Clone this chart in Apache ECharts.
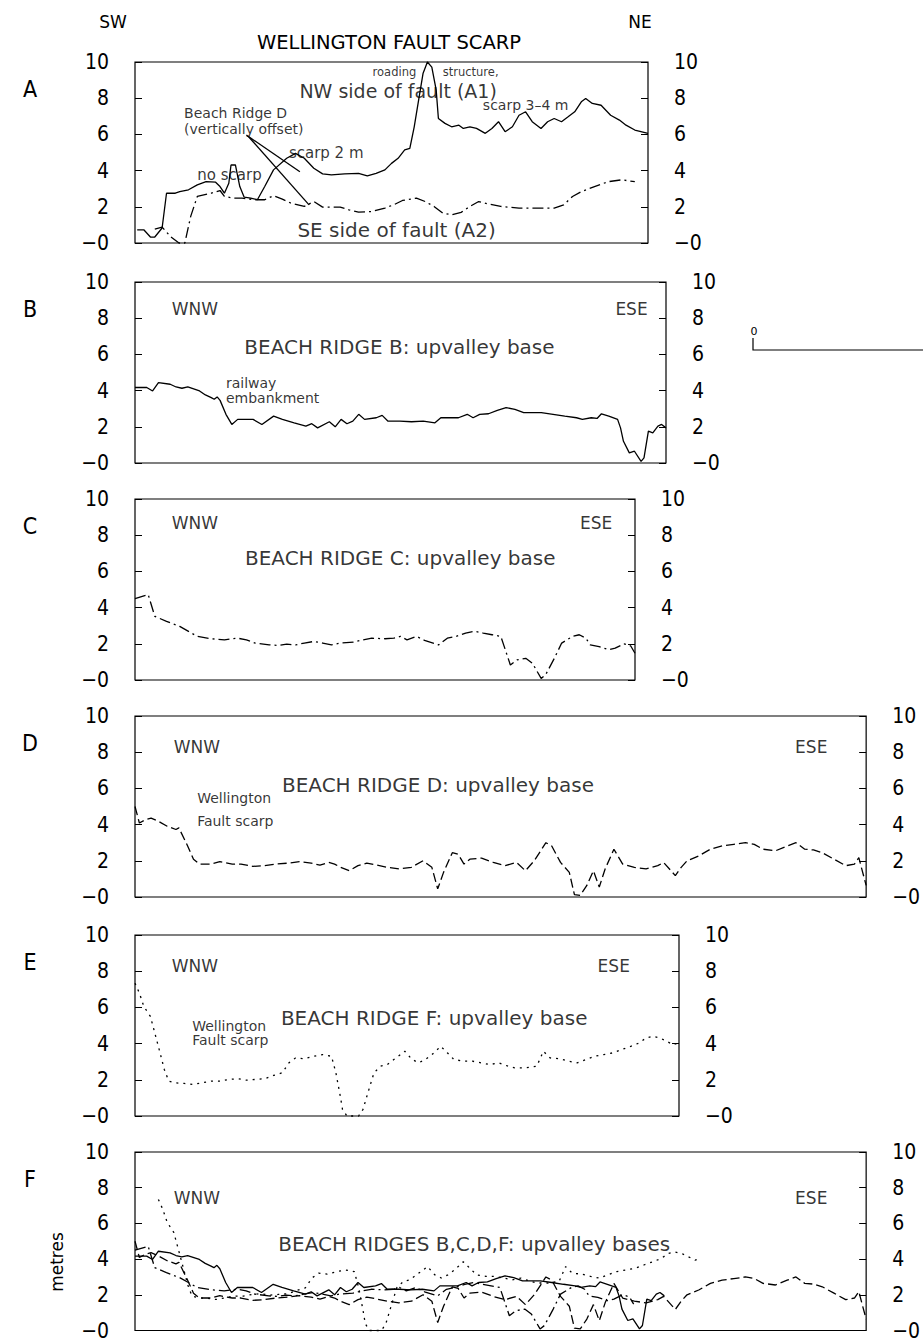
<!DOCTYPE html>
<html><head><meta charset="utf-8">
<script src="https://cdn.jsdelivr.net/npm/echarts@6/dist/echarts.min.js"></script>
<style>html,body{margin:0;padding:0;background:#fff}#c{width:923px;height:1341px}</style>
</head><body><div id="c"></div>
<script>
// ================= DATA =================
// Heights in metres; x = distance along profile (common arbitrary units)
const yTickValues = [0, 2, 4, 6, 8, 10];
const yTickLabels = ['−0', '2', '4', '6', '8', '10'];
const panelLetters = ['A', 'B', 'C', 'D', 'E', 'F'];
const profileLengths = [70, 72.4, 68.2, 100, 74.2, 100];

// A1: NW side of Wellington fault (solid)
const profileA1 = [[0.3,0.73],[1.2,0.73],[2.1,0.33],[2.7,0.33],[3.7,0.83],[4.3,2.75],[5.5,2.75],[6.1,2.84],[7.3,2.94],[8.5,3.21],[9.7,3.39],[11.0,3.36],[11.6,3.12],[12.2,2.75],[12.8,3.3],[13.1,4.31],[13.7,4.31],[14.3,3.12],[14.9,2.53],[15.8,2.48],[16.7,2.39],[17.7,3.12],[18.9,4.04],[20.7,4.68],[21.9,4.95],[23.1,4.68],[24.4,4.13],[25.6,3.82],[26.8,3.76],[28.6,3.82],[30.5,3.85],[31.7,3.71],[32.9,3.85],[34.1,4.04],[35.0,4.4],[35.9,4.68],[36.8,5.14],[37.5,5.23],[38.1,6.42],[38.7,7.89],[39.3,9.36],[39.9,10.0],[40.5,9.72],[41.1,8.44],[41.4,6.88],[42.3,6.61],[43.2,6.42],[44.2,6.51],[44.8,6.33],[45.7,6.42],[46.6,6.33],[47.8,6.06],[48.7,6.33],[49.6,6.7],[50.5,6.15],[51.5,6.42],[52.4,7.06],[53.3,7.25],[54.2,6.7],[55.4,6.33],[56.3,6.7],[57.2,6.88],[58.2,6.7],[59.1,6.97],[60.0,7.25],[60.9,7.8],[61.5,7.98],[62.4,7.71],[63.6,7.61],[64.9,7.06],[66.1,6.79],[67.0,6.51],[68.2,6.24],[70.0,6.06]];
// A2: SE side of fault (dash-dot)
const profileA2 = [[2.7,0.77],[3.7,0.88],[4.9,0.33],[6.0,0.0],[6.8,0.0],[7.6,1.47],[8.5,2.57],[10.4,2.75],[11.6,2.9],[12.2,2.57],[13.4,2.48],[14.6,2.48],[16.4,2.39],[17.7,2.39],[18.9,2.61],[20.1,2.42],[21.3,2.2],[23.1,2.02],[24.4,2.29],[25.6,1.98],[28.0,1.98],[29.2,1.83],[30.5,1.71],[32.3,1.74],[34.1,1.93],[35.3,2.11],[36.5,2.35],[38.4,2.48],[39.6,2.29],[40.8,2.02],[42.0,1.65],[43.2,1.56],[44.5,1.69],[45.7,2.02],[46.9,2.29],[48.1,2.17],[49.9,2.02],[52.4,1.93],[54.8,1.93],[57.2,1.93],[58.5,2.11],[59.7,2.57],[60.9,2.84],[62.7,3.12],[64.6,3.39],[66.4,3.49],[68.2,3.39]];
// Beach ridge B upvalley base (solid)
const profileB = [[0,4.17],[1.6,4.17],[2.4,3.98],[3.2,4.44],[4.8,4.35],[5.6,4.2],[6.4,4.13],[7.2,4.2],[8.8,3.98],[9.6,3.76],[10.4,3.61],[10.8,3.52],[11.2,3.65],[11.6,3.46],[12.4,2.69],[13.2,2.13],[14.0,2.41],[16.1,2.41],[17.3,2.13],[18.9,2.59],[20.1,2.41],[21.7,2.22],[23.3,2.04],[24.1,2.17],[24.9,1.94],[26.5,2.28],[27.3,2.0],[28.1,2.41],[28.9,2.17],[29.7,2.31],[30.5,2.69],[31.3,2.41],[32.9,2.5],[33.7,2.63],[34.5,2.31],[36.1,2.31],[37.7,2.28],[39.3,2.31],[40.9,2.22],[41.7,2.5],[44.1,2.5],[45.3,2.69],[46.1,2.5],[47.0,2.69],[48.2,2.72],[49.4,2.91],[50.6,3.06],[51.8,2.96],[53.0,2.78],[55.4,2.78],[57.0,2.69],[58.6,2.59],[60.2,2.5],[61.0,2.41],[62.2,2.5],[63.0,2.46],[63.6,2.72],[64.6,2.59],[65.8,2.41],[66.2,1.94],[66.6,1.2],[67.4,0.56],[68.1,0.65],[69.0,0.09],[69.4,0.28],[70.0,1.76],[70.6,1.67],[71.3,2.04],[71.8,2.13],[72.4,1.94]];
// Beach ridge C upvalley base (dash-dot)
const profileC = [[0,4.5],[1.8,4.72],[2.7,3.52],[4.3,3.24],[6.1,2.96],[7.3,2.69],[8.5,2.41],[10.4,2.28],[12.2,2.22],[14.0,2.31],[15.2,2.22],[16.4,2.04],[18.3,1.94],[19.5,1.91],[20.7,1.98],[21.9,1.94],[23.1,2.04],[24.4,2.13],[25.6,2.04],[26.8,1.94],[28.0,2.04],[29.8,2.09],[31.1,2.22],[32.3,2.31],[34.1,2.28],[35.3,2.31],[36.2,2.41],[37.1,2.22],[38.4,2.41],[39.6,2.17],[41.4,1.94],[42.6,2.31],[43.8,2.41],[45.1,2.59],[46.3,2.69],[47.5,2.59],[48.7,2.5],[49.9,2.41],[51.2,0.83],[52.1,1.11],[53.3,1.2],[54.2,0.93],[55.4,0.09],[56.0,0.28],[57.2,1.2],[58.2,2.04],[59.7,2.41],[60.6,2.5],[61.5,2.31],[62.1,1.94],[63.3,1.85],[64.6,1.67],[65.5,1.76],[66.7,2.0],[67.6,1.89],[68.2,1.48]];
// Beach ridge D upvalley base (dashed)
const profileD = [[0,5.0],[0.6,4.09],[1.4,4.27],[2.2,4.36],[3.2,4.18],[4.4,3.91],[5.6,3.73],[6.0,3.82],[7.2,2.82],[8.0,2.09],[8.8,1.82],[10.4,1.82],[11.6,1.95],[13.3,1.82],[14.5,1.82],[16.1,1.69],[17.7,1.73],[19.3,1.82],[20.9,1.87],[22.5,1.95],[24.1,1.87],[25.3,1.76],[26.5,1.91],[27.3,1.82],[28.1,1.64],[29.3,1.45],[30.5,1.73],[31.7,1.87],[32.9,1.78],[34.5,1.64],[36.1,1.55],[37.8,1.64],[39.4,2.0],[40.6,1.64],[41.4,0.45],[42.2,1.36],[43.4,2.45],[44.2,2.36],[45.0,1.82],[45.8,2.09],[47.4,2.15],[49.0,1.91],[50.6,1.73],[52.2,1.91],[53.4,1.45],[54.6,2.0],[56.2,3.0],[57.0,2.82],[58.2,1.91],[59.4,1.36],[60.1,0.13],[60.9,0.09],[61.8,0.64],[62.7,1.45],[63.5,0.55],[64.3,1.55],[65.5,2.64],[66.7,1.82],[68.3,1.64],[69.9,1.55],[71.5,1.73],[72.3,1.91],[73.9,1.18],[74.7,1.64],[75.5,2.0],[77.1,2.27],[78.7,2.64],[80.3,2.82],[81.9,2.91],[83.5,3.0],[84.7,2.91],[85.9,2.64],[87.6,2.55],[89.2,2.82],[90.4,3.0],[91.6,2.64],[92.8,2.6],[94.0,2.45],[95.6,2.09],[97.2,1.73],[98.4,1.82],[99.0,2.18],[99.4,1.55],[100,0.64]];
// Beach ridge F upvalley base (dotted)
const profileF = [[0,7.34],[0.6,6.79],[1.2,6.06],[2.1,5.5],[2.7,4.59],[3.3,3.67],[4.0,2.57],[4.6,1.93],[5.5,1.83],[6.7,1.8],[7.9,1.74],[9.1,1.83],[10.4,1.93],[11.6,1.93],[12.8,2.02],[14.0,2.06],[15.2,1.98],[16.4,2.02],[17.7,2.06],[18.9,2.24],[20.1,2.39],[21.0,2.94],[21.9,3.21],[23.1,3.16],[24.4,3.3],[25.6,3.39],[26.8,3.3],[27.4,2.39],[28.0,1.1],[28.3,0.37],[28.9,0.0],[30.5,0.0],[31.1,0.37],[31.7,1.19],[32.6,2.39],[33.5,2.75],[34.4,2.84],[35.3,3.12],[36.2,3.39],[36.8,3.58],[37.8,3.12],[38.7,2.94],[39.6,3.12],[40.5,3.39],[41.7,3.85],[42.6,3.49],[43.5,3.12],[44.8,3.03],[46.0,3.03],[47.2,2.94],[48.4,2.84],[49.6,2.94],[50.9,2.75],[51.8,2.66],[53.3,2.66],[54.8,2.75],[55.7,3.58],[56.6,3.21],[57.9,3.16],[59.1,3.03],[60.3,2.94],[61.5,3.12],[62.7,3.3],[63.9,3.39],[65.2,3.49],[66.4,3.67],[67.6,3.85],[68.8,4.04],[69.7,4.31],[70.6,4.4],[71.6,4.31],[72.5,4.13],[73.4,3.94],[74.2,4.04]];
// shift of ridge F in the combined panel (aligned on fault scarp)
const fOverlayShift = 3.2;

// ================= LAYOUT =================
const FONT_NARROW = "'Liberation Sans Narrow','DejaVu Sans Condensed','Liberation Sans',sans-serif";
const FONT_TEXT = "'DejaVu Sans',sans-serif";
const grids = [
  {left:135, top:62,  width:513, height:181},
  {left:135, top:282, width:531, height:181},
  {left:135, top:499, width:500, height:181},
  {left:135, top:716, width:733, height:181},
  {left:135, top:935, width:544, height:181},
  {left:135, top:1152,width:733, height:181}
];
// annotation placement [x, y, text, anchor, fontSize]
const notes = [
  [[35.9,8.42,'NW side of fault (A1)','c',19],[35.7,0.73,'SE side of fault (A2)','c',20],
   [35.4,9.45,'roading','c',11.5],[45.8,9.45,'structure,','c',11.5],[53.3,7.6,'scarp 3–4 m','c',14],
   [6.7,7.2,'Beach Ridge D','l',14],[6.7,6.3,'(vertically offset)','l',14],
   [21.0,4.95,'scarp 2 m','l',15],[8.5,3.76,'no scarp','l',15]],
  [[5.0,8.5,'WNW','l',17],[69.9,8.5,'ESE','r',17],[14.9,6.4,'BEACH RIDGE B: upvalley base','l',20],
   [12.4,4.44,'railway','l',14],[12.4,3.61,'embankment','l',14]],
  [[5.0,8.7,'WNW','l',17],[65.1,8.7,'ESE','r',17],[15.0,6.76,'BEACH RIDGE C: upvalley base','l',20]],
  [[5.3,8.27,'WNW','l',17],[94.7,8.27,'ESE','r',17],[20.1,6.2,'BEACH RIDGE D: upvalley base','l',20],
   [8.5,5.45,'Wellington','l',14],[8.5,4.2,'Fault scarp','l',14]],
  [[5.0,8.26,'WNW','l',17],[67.5,8.26,'ESE','r',17],[19.9,5.4,'BEACH RIDGE F: upvalley base','l',20],
   [7.8,4.95,'Wellington','l',14],[7.8,4.2,'Fault scarp','l',14]],
  [[5.3,7.4,'WNW','l',17],[94.7,7.4,'ESE','r',17],[19.6,4.86,'BEACH RIDGES B,C,D,F: upvalley bases','l',20]]
];
const leaderLines = [[[15.2,5.96],[22.5,3.94]],[[15.5,5.87],[23.75,2.11]]];

const SOLID = 'solid', DASHDOT = [11,4,2,4], DASHED = [9,4], DOTTED = [2,5];

const xAxes = [], yAxes = [], series = [];
grids.forEach((g, i) => {
  xAxes.push({gridIndex:i, type:'value', min:0, max:profileLengths[i], show:false});
  ['left','right'].forEach(pos => {
    yAxes.push({gridIndex:i, type:'value', min:0, max:10, interval:2, position:pos,
      axisLine:{show:false}, splitLine:{show:false},
      axisTick:{show:true, inside:true, length:7, lineStyle:{color:'#000', width:1}},
      axisLabel:{show:true, margin:26, color:'#000', fontSize:21, fontFamily:FONT_NARROW,
        formatter: v => yTickLabels[yTickValues.indexOf(v)]}});
  });
});
function line(i, data, type) {
  series.push({type:'line', xAxisIndex:i, yAxisIndex:2*i, data, showSymbol:false, symbol:'none',
    silent:true, clip:false, lineStyle:{color:'#000', width:1.3, type, cap:'butt'}});
}
line(0, profileA1, SOLID);
line(0, profileA2, DASHDOT);
line(1, profileB, SOLID);
line(2, profileC, DASHDOT);
line(3, profileD, DASHED);
line(4, profileF, DOTTED);
line(5, profileD, DASHED);
line(5, profileB, SOLID);
line(5, profileC, DASHDOT);
line(5, profileF.map(p => [p[0] + fOverlayShift, p[1]]), DOTTED);
leaderLines.forEach(seg => line(0, seg, SOLID));

notes.forEach((arr, i) => {
  series.push({type:'scatter', xAxisIndex:i, yAxisIndex:2*i, symbolSize:0, silent:true,
    itemStyle:{color:'#000'},
    label:{show:true, color:'#000', textBorderWidth:0},
    data: arr.map(n => ({value:[n[0], n[1]], label:{show:true, position:'inside',
      formatter:n[2], align: n[3]==='l'?'left':(n[3]==='r'?'right':'center'), verticalAlign:'middle',
      fontSize:n[4], color:'#000', textBorderWidth:0, textShadowBlur:0, fontFamily:FONT_TEXT}}))});
});

const T = (text, x, y, size, family, extra) => Object.assign({type:'text', x, y,
  style:{text, fontSize:size, fontFamily:family, fill:'#000', align:'center', verticalAlign:'middle'}}, extra || {});
const graphic = [
  T('SW', 113, 22, 17, FONT_TEXT),
  T('NE', 640, 22, 17, FONT_TEXT),
  T('WELLINGTON FAULT SCARP', 389, 42, 19.5, FONT_TEXT),
  T('metres', 57, 1262, 17, FONT_TEXT, {rotation:Math.PI/2}),
  T('0', 754, 331, 11, FONT_TEXT),
  {type:'polyline', shape:{points:[[753,338],[753,350],[923,350]]}, style:{stroke:'#000', lineWidth:1.2, fill:null}}
];
grids.forEach((g, i) => graphic.push(T(panelLetters[i], 30, g.top + 27, 23, FONT_NARROW)));

const chart = echarts.init(document.getElementById('c'), null, {renderer:'svg'});
chart.setOption({
  animation:false, backgroundColor:'#fff',
  grid: grids.map(g => Object.assign({show:true, borderColor:'#000', borderWidth:1.2, backgroundColor:'transparent'}, g)),
  xAxis:xAxes, yAxis:yAxes, series, graphic
});
</script></body></html>
